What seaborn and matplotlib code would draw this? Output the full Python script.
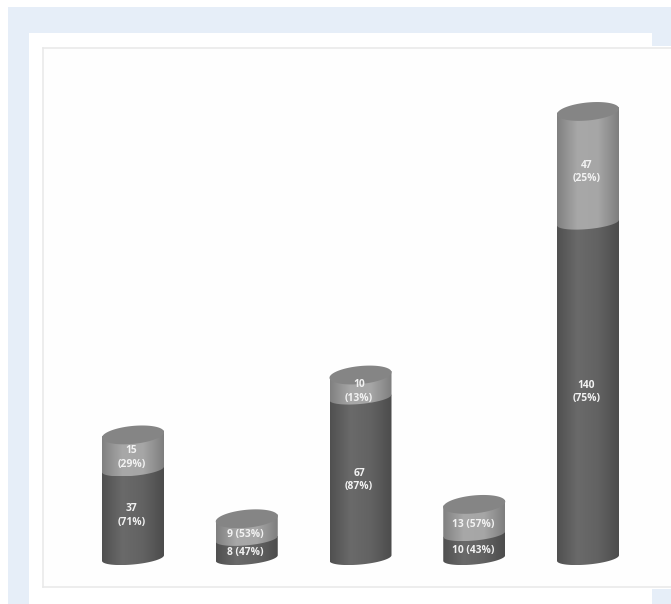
import numpy as np
import matplotlib
matplotlib.use("Agg")
import matplotlib.pyplot as plt
from matplotlib.patches import Polygon, Rectangle
from matplotlib.colors import LinearSegmentedColormap
import seaborn as sns

groups = ["1", "2", "3", "4", "5"]
lower = [37, 8, 67, 10, 140]
upper = [15, 9, 10, 13, 47]
lower_labels = ["37\n(71%)", "8 (47%)", "67\n(87%)", "10 (43%)", "140\n(75%)"]
upper_labels = ["15\n(29%)", "9 (53%)", "10\n(13%)", "13 (57%)", "47\n(25%)"]
totals = [a + b for a, b in zip(lower, upper)]

W, H = 671, 604
sns.set_theme(style="white")
plt.rcParams["font.family"] = ["Open Sans", "DejaVu Sans"]

fig = plt.figure(figsize=(W / 100, H / 100), dpi=100, facecolor="white")


def px_rect(x0, y0, x1, y1, color, z=0):
    # rectangle in picture pixels, y counted from the top
    fig.add_artist(Rectangle((x0 / W, 1 - y1 / H), (x1 - x0) / W, (y1 - y0) / H,
                             transform=fig.transFigure, fc=color, ec="none", zorder=z))


# pale blue page behind the chart
blue = "#e6eef8"
px_rect(8, 7, 671, 33, blue)
px_rect(8, 33, 29, 604, blue)
px_rect(652, 33, 671, 46, blue)
px_rect(652, 589, 671, 604, blue)

ax = fig.add_axes([42.5 / W, 1 - 586.5 / H, (W - 42.5 + 5) / W, (586.5 - 47.5) / H])
ax.set_facecolor("#fefefe")
ax.patch.set_zorder(0)

sns.barplot(x=groups, y=totals, color="#999999", width=0.545, ax=ax)
sns.barplot(x=groups, y=lower, color="#5a5a5a", width=0.545, ax=ax)

# 113.75 px per group, 2.396 px per unit, zero sits at y=558
step, unit, base_y = 113.75, 2.396, 558
xlim = ((42.5 - 133) / step, (W + 5 - 133) / step)
ylim = (-(586.5 - base_y) / unit, (base_y - 47.5) / unit)
ax.set_xticks([])
ax.set_yticks([])
ax.set_xlabel("")
ax.set_ylabel("")
for side in ["left", "top", "bottom"]:
    ax.spines[side].set_color("#e8e8e8")
    ax.spines[side].set_linewidth(1.1)
ax.spines["right"].set_visible(False)

a_px, b_px, cap_b, tilt = 31, 6.5, 9, 0.09
t = np.linspace(0, 2 * np.pi, 121)
ell_x = a_px * np.cos(t) / step
# top ellipse is seen a bit deeper than the arcs below it
ell_y = (cap_b * np.sin(t) + tilt * a_px * np.cos(t) - 1.5) / unit
front = np.linspace(np.pi, 2 * np.pi, 61)
arc_x = a_px * np.cos(front) / step
arc_y = (b_px * np.sin(front) + tilt * a_px * np.cos(front)) / unit

dark_cmap = LinearSegmentedColormap.from_list("dark", ["#505050", "#6a6a6a", "#626262", "#4c4c4c"])
light_cmap = LinearSegmentedColormap.from_list("light", ["#808080", "#a8a8a8", "#a6a6a6", "#7e7e7e"])
ramp = np.linspace(0, 1, 256).reshape(1, -1)


def body(cx, y0, y1, cmap, z):
    # cylinder wall: front arc at y0, straight up to y1
    xs = np.r_[cx + arc_x, cx - arc_x[0], cx + arc_x[0]]
    ys = np.r_[y0 + arc_y, y1 - arc_y[0], y1 + arc_y[0]]
    im = ax.imshow(ramp, cmap=cmap, aspect="auto", zorder=z, interpolation="bilinear",
                   extent=(xs.min(), xs.max(), ys.min(), ys.max()))
    im.set_clip_path(Polygon(np.c_[xs, ys], closed=True, transform=ax.transData))


bars = ax.patches[:]
for i, (top_bar, low_bar) in enumerate(zip(bars[:5], bars[5:])):
    cx = top_bar.get_x() + top_bar.get_width() / 2
    split = low_bar.get_height()
    total = top_bar.get_height()
    top_bar.set_visible(False)
    low_bar.set_visible(False)
    body(cx, 0, split, dark_cmap, 2)
    body(cx, split, total, light_cmap, 3)
    ax.add_patch(Polygon(np.c_[cx + ell_x, total + ell_y], closed=True, fc="#858585", ec="none", zorder=4))
    low_off = -2 if "\n" in lower_labels[i] else -4
    for mid, off, txt in [(split / 2, low_off, lower_labels[i]), ((split + total) / 2, -6, upper_labels[i])]:
        ax.annotate(txt, (cx - 1.5 / step, mid), xytext=(0, off), textcoords="offset pixels",
                    ha="center", va="center", color="#f2f2f2", fontsize=7.4, fontweight="bold",
                    linespacing=1.3, zorder=6)

# imshow resets the view, so pin it at the end
ax.set_xlim(xlim)
ax.set_ylim(ylim)

fig.savefig("out.png", dpi=100)
